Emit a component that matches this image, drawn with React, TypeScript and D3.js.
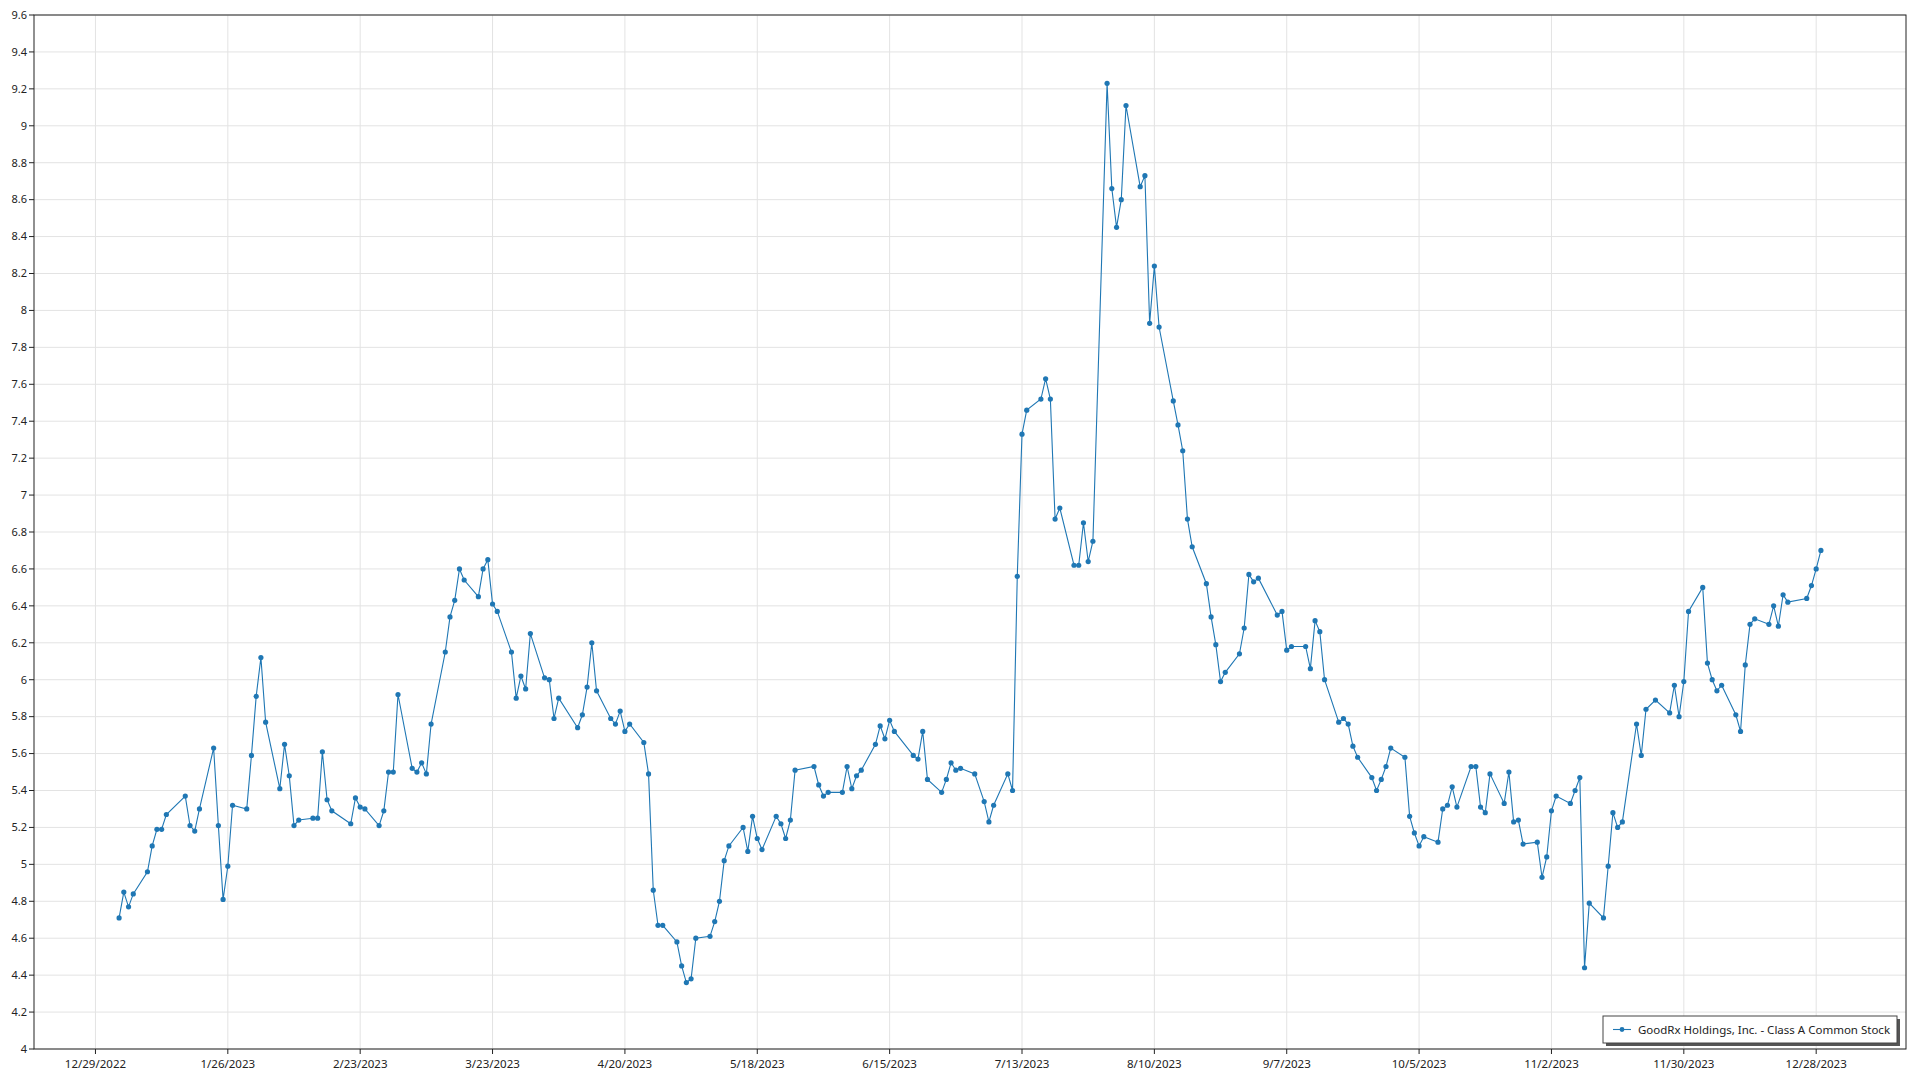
import React from "react";
import * as d3 from "d3";

const dates: string[] = [
"2023-01-03","2023-01-04","2023-01-05","2023-01-06","2023-01-09","2023-01-10","2023-01-11","2023-01-12","2023-01-13","2023-01-17","2023-01-18","2023-01-19","2023-01-20","2023-01-23","2023-01-24","2023-01-25","2023-01-26","2023-01-27","2023-01-30","2023-01-31",
"2023-02-01","2023-02-02","2023-02-03","2023-02-06","2023-02-07","2023-02-08","2023-02-09","2023-02-10","2023-02-13","2023-02-14","2023-02-15","2023-02-16","2023-02-17","2023-02-21","2023-02-22","2023-02-23","2023-02-24","2023-02-27","2023-02-28",
"2023-03-01","2023-03-02","2023-03-03","2023-03-06","2023-03-07","2023-03-08","2023-03-09","2023-03-10","2023-03-13","2023-03-14","2023-03-15","2023-03-16","2023-03-17","2023-03-20","2023-03-21","2023-03-22","2023-03-23","2023-03-24","2023-03-27","2023-03-28","2023-03-29","2023-03-30","2023-03-31",
"2023-04-03","2023-04-04","2023-04-05","2023-04-06","2023-04-10","2023-04-11","2023-04-12","2023-04-13","2023-04-14","2023-04-17","2023-04-18","2023-04-19","2023-04-20","2023-04-21","2023-04-24","2023-04-25","2023-04-26","2023-04-27","2023-04-28",
"2023-05-01","2023-05-02","2023-05-03","2023-05-04","2023-05-05","2023-05-08","2023-05-09","2023-05-10","2023-05-11","2023-05-12","2023-05-15","2023-05-16","2023-05-17","2023-05-18","2023-05-19","2023-05-22","2023-05-23","2023-05-24","2023-05-25","2023-05-26","2023-05-30","2023-05-31",
"2023-06-01","2023-06-02","2023-06-05","2023-06-06","2023-06-07","2023-06-08","2023-06-09","2023-06-12","2023-06-13","2023-06-14","2023-06-15","2023-06-16","2023-06-20","2023-06-21","2023-06-22","2023-06-23","2023-06-26","2023-06-27","2023-06-28","2023-06-29","2023-06-30",
"2023-07-03","2023-07-05","2023-07-06","2023-07-07","2023-07-10","2023-07-11","2023-07-12","2023-07-13","2023-07-14","2023-07-17","2023-07-18","2023-07-19","2023-07-20","2023-07-21","2023-07-24","2023-07-25","2023-07-26","2023-07-27","2023-07-28","2023-07-31",
"2023-08-01","2023-08-02","2023-08-03","2023-08-04","2023-08-07","2023-08-08","2023-08-09","2023-08-10","2023-08-11","2023-08-14","2023-08-15","2023-08-16","2023-08-17","2023-08-18","2023-08-21","2023-08-22","2023-08-23","2023-08-24","2023-08-25","2023-08-28","2023-08-29","2023-08-30","2023-08-31",
"2023-09-01","2023-09-05","2023-09-06","2023-09-07","2023-09-08","2023-09-11","2023-09-12","2023-09-13","2023-09-14","2023-09-15","2023-09-18","2023-09-19","2023-09-20","2023-09-21","2023-09-22","2023-09-25","2023-09-26","2023-09-27","2023-09-28","2023-09-29",
"2023-10-02","2023-10-03","2023-10-04","2023-10-05","2023-10-06","2023-10-09","2023-10-10","2023-10-11","2023-10-12","2023-10-13","2023-10-16","2023-10-17","2023-10-18","2023-10-19","2023-10-20","2023-10-23","2023-10-24","2023-10-25","2023-10-26","2023-10-27","2023-10-30","2023-10-31",
"2023-11-01","2023-11-02","2023-11-03","2023-11-06","2023-11-07","2023-11-08","2023-11-09","2023-11-10","2023-11-13","2023-11-14","2023-11-15","2023-11-16","2023-11-17","2023-11-20","2023-11-21","2023-11-22","2023-11-24","2023-11-27","2023-11-28","2023-11-29","2023-11-30",
"2023-12-01","2023-12-04","2023-12-05","2023-12-06","2023-12-07","2023-12-08","2023-12-11","2023-12-12","2023-12-13","2023-12-14","2023-12-15","2023-12-18","2023-12-19","2023-12-20","2023-12-21","2023-12-22","2023-12-26","2023-12-27","2023-12-28","2023-12-29"
];

const prices: number[] = [
4.71,4.85,4.77,4.84,4.96,5.10,5.19,5.19,5.27,5.37,5.21,5.18,5.30,5.63,5.21,4.81,4.99,5.32,5.30,5.59,
5.91,6.12,5.77,5.41,5.65,5.48,5.21,5.24,5.25,5.25,5.61,5.35,5.29,5.22,5.36,5.31,5.30,5.21,5.29,
5.50,5.50,5.92,5.52,5.50,5.55,5.49,5.76,6.15,6.34,6.43,6.60,6.54,6.45,6.60,6.65,6.41,6.37,6.15,5.90,6.02,5.95,6.25,
6.01,6.00,5.79,5.90,5.74,5.81,5.96,6.20,5.94,5.79,5.76,5.83,5.72,5.76,5.66,5.49,4.86,4.67,4.67,
4.58,4.45,4.36,4.38,4.60,4.61,4.69,4.80,5.02,5.10,5.20,5.07,5.26,5.14,5.08,5.26,5.22,5.14,5.24,5.51,5.53,5.43,
5.37,5.39,5.39,5.53,5.41,5.48,5.51,5.65,5.75,5.68,5.78,5.72,5.59,5.57,5.72,5.46,5.39,5.46,5.55,5.51,5.52,
5.49,5.34,5.23,5.32,5.49,5.40,6.56,7.33,7.46,7.52,7.63,7.52,6.87,6.93,6.62,6.62,6.85,6.64,6.75,9.23,
8.66,8.45,8.60,9.11,8.67,8.73,7.93,8.24,7.91,7.51,7.38,7.24,6.87,6.72,6.52,6.34,6.19,5.99,6.04,6.14,6.28,6.57,6.53,
6.55,6.35,6.37,6.16,6.18,6.18,6.06,6.32,6.26,6.00,5.77,5.79,5.76,5.64,5.58,5.47,5.40,5.46,5.53,5.63,
5.58,5.26,5.17,5.10,5.15,5.12,5.30,5.32,5.42,5.31,5.53,5.53,5.31,5.28,5.49,5.33,5.50,5.23,5.24,5.11,5.12,4.93,
5.04,5.29,5.37,5.33,5.40,5.47,4.44,4.79,4.71,4.99,5.28,5.20,5.23,5.76,5.59,5.84,5.89,5.82,5.97,5.80,5.99,
6.37,6.50,6.09,6.00,5.94,5.97,5.81,5.72,6.08,6.30,6.33,6.30,6.40,6.29,6.46,6.42,6.44,6.51,6.60,6.70
];

const xTickLabels: string[] = ["12/29/2022","1/26/2023","2/23/2023","3/23/2023","4/20/2023","5/18/2023","6/15/2023","7/13/2023","8/10/2023","9/7/2023","10/5/2023","11/2/2023","11/30/2023","12/28/2023"];
const yTickLabels: string[] = ["4","4.2","4.4","4.6","4.8","5","5.2","5.4","5.6","5.8","6","6.2","6.4","6.6","6.8","7","7.2","7.4","7.6","7.8","8","8.2","8.4","8.6","8.8","9","9.2","9.4","9.6"];
const seriesName = "GoodRx Holdings, Inc. - Class A Common Stock";

const W = 1920, H = 1080;
const M = { left: 34, right: 1906, top: 15, bottom: 1049 };
const COLOR = "#1f77b4";
const FONT = "'Noto Sans', 'Open Sans', sans-serif";

function parseDate(s: string): Date {
  const [y, m, d] = s.split("-").map(Number);
  return new Date(y, m - 1, d);
}
function parseTick(s: string): Date {
  const [m, d, y] = s.split("/").map(Number);
  return new Date(y, m - 1, d);
}

export default function App() {
  const pts = dates.map((d, i) => ({ date: parseDate(d), v: prices[i] }));
  const ext = d3.extent(pts, (p) => p.date) as [Date, Date];
  const span = ext[1].getTime() - ext[0].getTime();
  const pad = span * 0.05;
  const x = d3.scaleTime()
    .domain([new Date(ext[0].getTime() - pad), new Date(ext[1].getTime() + pad)])
    .range([M.left, M.right]);
  const y = d3.scaleLinear().domain([4, 9.6]).range([M.bottom, M.top]);
  const line = d3.line<{ date: Date; v: number }>().x((p) => x(p.date)).y((p) => y(p.v));

  const xTicks = xTickLabels.map((l) => ({ l, d: parseTick(l) }));
  const yTicks = yTickLabels.map((l) => ({ l, v: +l }));

  const lg = { x: 1603, y: 1016, w: 294, h: 27 };

  return (
    <div style={{ position: "fixed", left: 0, top: 0, width: W, height: H, background: "#fff" }}>
      <svg width={W} height={H} style={{ display: "block" }} fontFamily={FONT}>
        <rect x={0} y={0} width={W} height={H} fill="#fff" />
        {yTicks.map((t) => (
          <line key={"gy" + t.l} x1={M.left} x2={M.right} y1={y(t.v)} y2={y(t.v)} stroke="#e3e3e3" strokeWidth={1} />
        ))}
        {xTicks.map((t) => (
          <line key={"gx" + t.l} x1={x(t.d)} x2={x(t.d)} y1={M.top} y2={M.bottom} stroke="#e3e3e3" strokeWidth={1} />
        ))}
        <rect x={M.left} y={M.top} width={M.right - M.left} height={M.bottom - M.top} fill="none" stroke="#222" strokeWidth={1} />
        {yTicks.map((t) => (
          <g key={"ty" + t.l}>
            <line x1={M.left - 5} x2={M.left} y1={y(t.v)} y2={y(t.v)} stroke="#222" />
            <text x={M.left - 7} y={y(t.v)} dy="0.35em" textAnchor="end" fontSize={11} fill="#222">{t.l}</text>
          </g>
        ))}
        {xTicks.map((t) => (
          <g key={"tx" + t.l}>
            <line x1={x(t.d)} x2={x(t.d)} y1={M.bottom} y2={M.bottom + 5} stroke="#222" />
            <text x={x(t.d)} y={M.bottom + 19} textAnchor="middle" fontSize={11.5} fill="#222">{t.l}</text>
          </g>
        ))}
        <path d={line(pts) || ""} fill="none" stroke={COLOR} strokeWidth={1.1} />
        {pts.map((p, i) => (
          <circle key={i} cx={x(p.date)} cy={y(p.v)} r={2.6} fill={COLOR} />
        ))}
        <g>
          <rect x={lg.x + 3} y={lg.y + 3} width={lg.w} height={lg.h} fill="#555" />
          <rect x={lg.x} y={lg.y} width={lg.w} height={lg.h} fill="#fff" stroke="#444" strokeWidth={1} />
          <line x1={lg.x + 10} x2={lg.x + 28} y1={lg.y + lg.h / 2} y2={lg.y + lg.h / 2} stroke={COLOR} strokeWidth={1.1} />
          <circle cx={lg.x + 19} cy={lg.y + lg.h / 2} r={2.4} fill={COLOR} />
          <text x={lg.x + 35} y={lg.y + lg.h / 2} dy="0.35em" fontSize={11.5} fill="#222">{seriesName}</text>
        </g>
      </svg>
    </div>
  );
}
